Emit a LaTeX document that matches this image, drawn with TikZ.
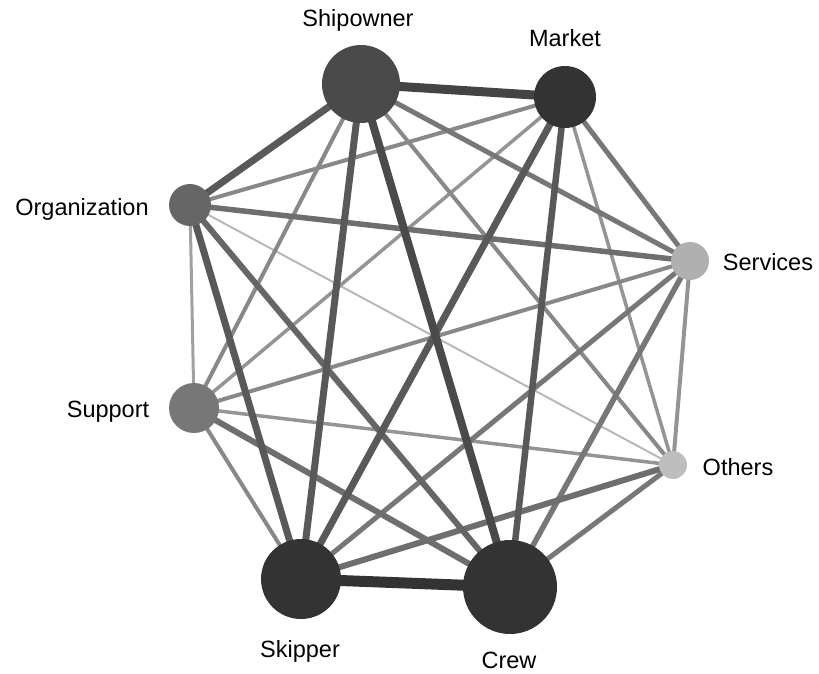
\documentclass[tikz,border=0pt]{standalone}
\usepackage{fontspec}
\setmainfont{Liberation Sans}
\pgfdeclarelayer{bg}
\pgfsetlayers{bg,main}
\definecolor{g1}{HTML}{333333}
\definecolor{g2}{HTML}{444444}
\definecolor{g3}{HTML}{4A4A4A}
\definecolor{g4}{HTML}{595959}
\definecolor{g5}{HTML}{666666}
\definecolor{g6}{HTML}{6E6E6E}
\definecolor{g7}{HTML}{777777}
\definecolor{g8}{HTML}{888888}
\definecolor{g9}{HTML}{949494}
\definecolor{g10}{HTML}{A0A0A0}
\definecolor{g11}{HTML}{B8B8B8}
\definecolor{gV}{HTML}{B0B0B0}
\definecolor{gT}{HTML}{BEBEBE}
\tikzset{
  actor/.style={circle, inner sep=0pt, draw=none},
  lbl/.style={anchor=base, font=\fontsize{23.5}{28}\selectfont, text=black, inner sep=0pt},
  tie/.style n args={2}{line width=#1pt, draw=#2}
}
\begin{document}
\begin{tikzpicture}[x=1pt,y=-1pt]
\useasboundingbox (0,0) rectangle (819,674);
% nodes
\node[actor, minimum size=78pt, fill=g3] (S) at (361,84) {};
\node[actor, minimum size=62pt, fill=g1] (M) at (565,97) {};
\node[actor, minimum size=42pt, fill=g5] (O) at (190,205) {};
\node[actor, minimum size=38pt, fill=gV] (V) at (690,261) {};
\node[actor, minimum size=50pt, fill=g7] (P) at (194,408) {};
\node[actor, minimum size=28pt, fill=gT] (T) at (673,465) {};
\node[actor, minimum size=80pt, fill=g1] (K) at (301,579) {};
\node[actor, minimum size=94pt, fill=g1] (C) at (510,587) {};
% labels
\node[lbl] (lS) at (358,27) {Shipowner};
\node[lbl] (lM) at (565,47) {Market};
\node[lbl] (lO) at (82,215) {Organization};
\node[lbl] (lV) at (768,270) {Services};
\node[lbl] (lP) at (108,417) {Support};
\node[lbl] (lT) at (738,475) {Others};
\node[lbl] (lK) at (300,657) {Skipper};
\node[lbl] (lC) at (509,668) {Crew};
% edges
\begin{pgfonlayer}{bg}
\draw[tie={2}{g11}] (O.center) -- (T.center);
\draw[tie={3}{g10}] (O.center) -- (P.center);
\draw[tie={3.5}{g9}] (P.center) -- (T.center);
\draw[tie={3.5}{g9}] (M.center) -- (P.center);
\draw[tie={3.5}{g9}] (M.center) -- (T.center);
\draw[tie={4}{g9}] (V.center) -- (T.center);
\draw[tie={4}{g8}] (P.center) -- (K.center);
\draw[tie={4}{g8}] (P.center) -- (V.center);
\draw[tie={4}{g8}] (M.center) -- (O.center);
\draw[tie={4}{g8}] (S.center) -- (T.center);
\draw[tie={4}{g8}] (S.center) -- (P.center);
\draw[tie={5}{g7}] (T.center) -- (C.center);
\draw[tie={5}{g7}] (V.center) -- (K.center);
\draw[tie={5}{g7}] (M.center) -- (V.center);
\draw[tie={5}{g7}] (S.center) -- (V.center);
\draw[tie={5.5}{g7}] (V.center) -- (C.center);
\draw[tie={5.5}{g6}] (O.center) -- (V.center);
\draw[tie={6}{g6}] (T.center) -- (K.center);
\draw[tie={6}{g6}] (P.center) -- (C.center);
\draw[tie={6}{g5}] (O.center) -- (C.center);
\draw[tie={6.5}{g4}] (M.center) -- (C.center);
\draw[tie={7}{g4}] (M.center) -- (K.center);
\draw[tie={7}{g4}] (O.center) -- (K.center);
\draw[tie={7}{g4}] (S.center) -- (O.center);
\draw[tie={7}{g4}] (S.center) -- (K.center);
\draw[tie={8}{g3}] (S.center) -- (C.center);
\draw[tie={9}{g2}] (S.center) -- (M.center);
\draw[tie={11}{g1}] (K.center) -- (C.center);
\end{pgfonlayer}
\end{tikzpicture}
\end{document}
